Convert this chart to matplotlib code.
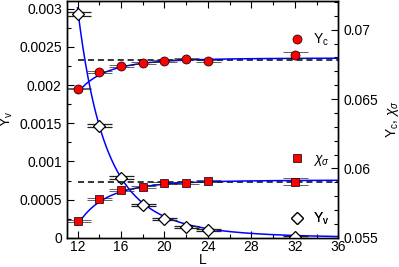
import numpy as np
import matplotlib
matplotlib.use('Agg')
import matplotlib.pyplot as plt
from matplotlib.ticker import MultipleLocator
from matplotlib.lines import Line2D

matplotlib.rcParams.update({
    'font.family': 'Liberation Sans',
    'font.size': 9,
    'mathtext.fontset': 'custom',
    'mathtext.rm': 'Liberation Sans',
    'mathtext.it': 'Liberation Sans:italic',
})

# data
L = [12, 14, 16, 18, 20, 22, 24, 32]
Yv = [0.00293, 0.00147, 0.00079, 0.00043, 0.00025, 0.000144, 0.0001, 0.00001]
Yv_err = [0.00002, 0.00002, 0.00002, 0.00001, 0.00001, 0.00001, 0.00001, 0.00001]
Yc = [0.06576, 0.06694, 0.06737, 0.06761, 0.06775, 0.06792, 0.06773, 0.06816]
Yc_err = [0.00005, 0.00005, 0.00005, 0.00005, 0.00005, 0.00005, 0.00005, 0.0002]
chi = [0.05624, 0.05778, 0.05845, 0.05867, 0.05898, 0.05898, 0.0591, 0.05905]
chi_err = [0.00008, 0.00008, 0.00008, 0.00008, 0.00008, 0.00008, 0.00008, 0.00024]

# fit parameters (asymptote + L^-omega correction) and reference levels
Yc_inf, Yc_amp = 0.06796, 0.00251
chi_inf, chi_amp = 0.05917, 0.00324
Yv_amp = 0.00147  # value at L=14
omega = 4.65
Yc_ref = 0.0678
chi_ref = 0.05905

Lfit = np.linspace(12, 36, 200)

fig = plt.figure(figsize=(3.99, 2.67), dpi=100)
ax = fig.add_axes([0.167, 0.109, 0.681, 0.889])
ax2 = ax.twinx()

ebar = dict(ecolor='#222222', elinewidth=0.6, capsize=9, capthick=0.6)

# Y_v on left axis
ax.plot(Lfit, Yv_amp * (Lfit / 14.0) ** (-omega), color='#0000ff', lw=1.1, zorder=2)
ax.errorbar(L, Yv, yerr=Yv_err, fmt='D', ms=6.5, mfc='white', mec='black', mew=0.9,
            zorder=3, **ebar)

# Y_c and chi_sigma on right axis
ax2.axhline(Yc_ref, xmin=(12 - 11) / 25, color='black', ls='--', lw=1.1, dashes=(4, 2.5))
ax2.axhline(chi_ref, xmin=(12 - 11) / 25, color='black', ls='--', lw=1.1, dashes=(4, 2.5))
ax2.plot(Lfit, Yc_inf - Yc_amp * (Lfit / 12.0) ** (-omega), color='#0000ff', lw=1.1)
ax2.plot(Lfit, chi_inf - chi_amp * (Lfit / 12.0) ** (-omega), color='#0000ff', lw=1.1)
ax2.errorbar(L, Yc, yerr=Yc_err, fmt='o', ms=6.5, mfc='#ff0000', mec='black', mew=0.5,
             **ebar)
ax2.errorbar(L, chi, yerr=chi_err, fmt='s', ms=5.5, mfc='#ff0000', mec='black', mew=0.5,
             **ebar)

ax.set_xlim(11, 36)
ax.set_ylim(0, 0.003106)
ax2.set_ylim(0.055, 0.0721)

ax.xaxis.set_major_locator(MultipleLocator(4))
ax.xaxis.set_minor_locator(MultipleLocator(2))
ax.yaxis.set_major_locator(MultipleLocator(0.0005))
ax.yaxis.set_minor_locator(MultipleLocator(0.00025))
ax2.yaxis.set_major_locator(MultipleLocator(0.005))
ax2.yaxis.set_minor_locator(MultipleLocator(0.001))
ax.set_yticks([0, 0.0005, 0.001, 0.0015, 0.002, 0.0025, 0.003])
ax.set_yticklabels(['0', '0.0005', '0.001', '0.0015', '0.002', '0.0025', '0.003'])
ax2.set_yticks([0.055, 0.06, 0.065, 0.07])
ax2.set_yticklabels(['0.055', '0.06', '0.065', '0.07'])

ax.tick_params(which='both', direction='in', top=True, bottom=True, left=True, right=False,
               labelsize=10)
ax.tick_params(which='major', length=5, width=0.8)
ax.tick_params(which='minor', length=3, width=0.8)
ax.tick_params(axis='x', pad=1.5)
ax2.tick_params(which='both', direction='in', right=True, left=False, labelsize=10)
ax2.tick_params(which='major', length=5, width=0.8)
ax2.tick_params(which='minor', length=3, width=0.8)

ax.set_xlabel('L', fontsize=10, labelpad=-1)
ax.set_ylabel(r'Y$_{\rm v}$', fontsize=10, labelpad=3)
ax2.set_ylabel(r'Y$_{\rm c}$, $\chi_\sigma$', fontsize=10, labelpad=4)

for a in (ax, ax2):
    for s in a.spines.values():
        s.set_linewidth(1.0)

# three separate legend entries at the right side
entries = [
    (Line2D([], [], ls='none', marker='o', ms=6.5, mfc='#ff0000', mec='black', mew=0.5),
     r'Y$_{\rm c}$', 0.835),
    (Line2D([], [], ls='none', marker='s', ms=5.5, mfc='#ff0000', mec='black', mew=0.5),
     r'$\chi_\sigma$', 0.328),
    (Line2D([], [], ls='none', marker='D', ms=6.5, mfc='white', mec='black', mew=0.9),
     r'Y$_{\rm v}$', 0.080),
]
for h, lab, yy in entries:
    leg = ax2.legend([h], [lab], loc='center left', bbox_to_anchor=(0.824, yy),
                     frameon=False, borderpad=0, borderaxespad=0, handlelength=1,
                     handletextpad=0.6, fontsize=10)
    ax2.add_artist(leg)

fig.savefig('out.png', dpi=100)
